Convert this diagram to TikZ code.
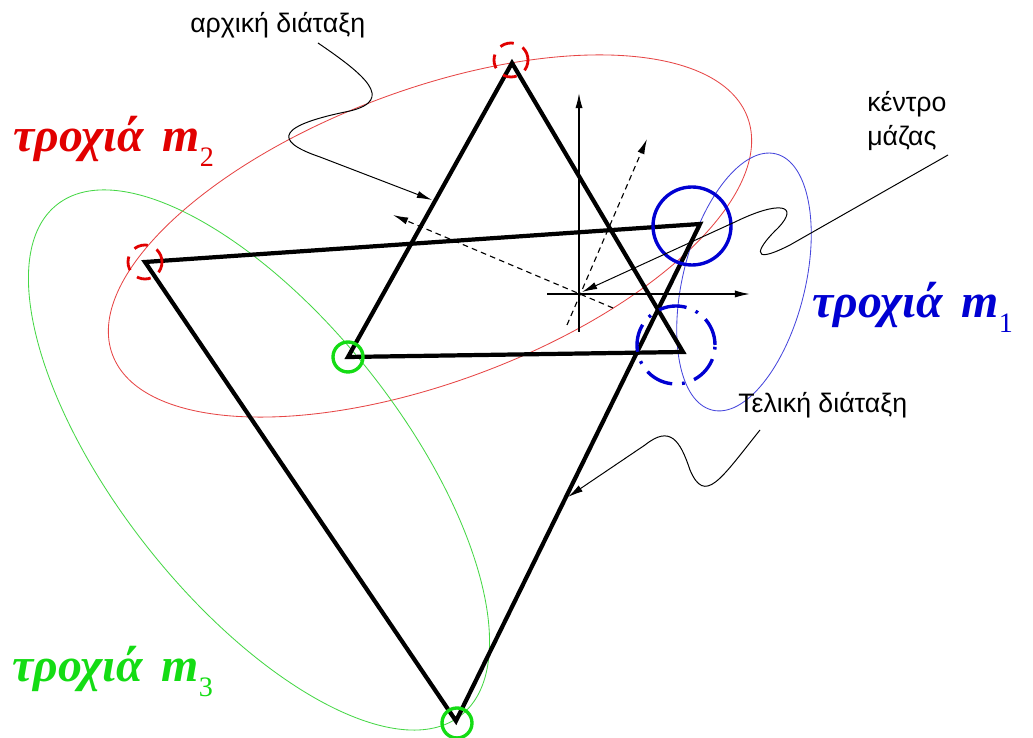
\documentclass[tikz,border=0pt]{standalone}
\usepackage{fontspec}
\setmainfont{Liberation Serif}
\setsansfont{Liberation Sans}
\usepackage{xcolor}
\usetikzlibrary{arrows.meta}

\definecolor{orbred}{RGB}{225,0,0}
\definecolor{ellred}{RGB}{230,70,70}
\definecolor{orbgreen}{RGB}{20,220,20}
\definecolor{ellgreen}{RGB}{70,215,70}
\definecolor{orbblue}{RGB}{0,0,210}
\definecolor{ellblue}{RGB}{70,70,220}

\newcommand{\troxia}[1]{{\bfseries\itshape τροχιά\hspace{0.4em}m}\raisebox{-0.3em}{\fontsize{20}{20}\selectfont\mdseries\upshape #1}}

\begin{document}
\begin{tikzpicture}[
	bigtri/.style={line width=3pt, line join=miter},
	orbit/.style={line width=0.6pt},
	axis/.style={line width=1pt, -{Latex[length=3.8mm,width=1.8mm]}},
	daxis/.style={line width=0.8pt, dash pattern=on 4pt off 3pt, -{Latex[length=3.8mm,width=1.8mm]}},
	pointer/.style={line width=0.7pt, -{Latex[length=3.8mm,width=1.8mm]}},
	note/.style={font=\sffamily\fontsize{19}{23}\selectfont, inner sep=0pt},
	orblbl/.style={font=\fontsize{34}{40}\selectfont, inner sep=0pt},
	]
	\useasboundingbox (0,0) rectangle (25.825,18.45);
	
	% orbits
	\coordinate (c2) at (10.75,12.55);
	\coordinate (c3) at (6.475,6.95);
	\coordinate (c1) at (18.60,11.40);
	\draw[orbit, ellred, rotate around={20.5:(c2)}] (c2) ellipse (8.475 and 3.65);
	\draw[orbit, ellgreen, rotate around={-51.65:(c3)}] (c3) ellipse (8.14 and 3.54);
	\draw[orbit, ellblue, rotate around={76:(c1)}] (c1) ellipse (3.30 and 1.525);
	
	% initial configuration
	\coordinate (ia) at (12.80,16.875);
	\coordinate (ib) at (8.70,9.525);
	\coordinate (ic) at (17.075,9.65);
	\draw[bigtri] (ia) -- (ib) -- (ic) -- cycle;
	
	% final configuration
	\coordinate (fa) at (3.625,11.90);
	\coordinate (fb) at (17.50,12.85);
	\coordinate (fc) at (11.40,0.425);
	\draw[bigtri] (fa) -- (fb) -- (fc) -- cycle;
	
	% masses
	\draw[orbred, line width=2pt, dash pattern=on 10pt off 7pt] (12.775,16.95) circle (0.425);
	\draw[orbred, line width=2pt, dash pattern=on 10pt off 7pt] (fa) circle (0.425);
	\draw[orbgreen, line width=2.4pt] (ib) circle (0.375);
	\draw[orbgreen, line width=2.4pt] (11.425,0.375) circle (0.375);
	\draw[orbblue, line width=2.4pt] (17.30,12.80) circle (0.975);
	\draw[orbblue, line width=2.4pt, dash pattern=on 20pt off 7pt on 2pt off 7pt] (16.90,9.825) circle (0.975);
	
	% centre of mass frames
	\coordinate (o) at (14.475,11.10);
	\draw[axis] (14.475,10.15) -- (14.475,16.125);
	\draw[axis] (13.675,11.10) -- (18.75,11.10);
	\draw[daxis] (15.325,10.75) -- (9.825,13.075);
	\draw[daxis] (14.175,10.325) -- (16.175,14.975);
	
	% labels
	\node[note, anchor=base west] (lblini) at (4.75,17.625) {αρχική διάταξη};
	\node[note, anchor=base west] (lblcm) at (21.675,15.65) {κέντρο};
	\node[note, anchor=base west] (lblcm2) at (21.675,14.80) {μάζας};
	\node[note, anchor=base west] (lblfin) at (18.45,8.125) {Τελική διάταξη};
	\node[orblbl, anchor=base west, text=orbred] (lblm2) at (0.325,14.65) {\troxia{2}};
	\node[orblbl, anchor=base west, text=orbblue] (lblm1) at (20.30,10.50) {\troxia{1}};
	\node[orblbl, anchor=base west, text=orbgreen] (lblm3) at (0.30,1.40) {\troxia{3}};
	
	% pointers
	\coordinate (wi0) at (7.95,17.375);
	\coordinate (wi1) at (10.80,13.45);
	\coordinate (wc0) at (23.70,14.575);
	\coordinate (wc1) at (14.55,11.15);
	\coordinate (wf0) at (19.0,7.70);
	\coordinate (wf1) at (14.20,6.025);
	\draw[pointer] (wi0) .. controls (9.125,16.575) and (9.875,15.95) .. (8.75,15.675)
		.. controls (7.0,15.325) and (6.75,14.95) .. (8.0,14.525) -- (wi1);
	\draw[pointer] (wc0) -- (19.75,12.325) .. controls (18.625,11.75) and (19.0,12.325) .. (19.45,12.75)
		.. controls (20.0,13.325) and (19.5,13.45) .. (18.375,12.90) -- (wc1);
	\draw[pointer] (wf0) .. controls (18.0,6.45) and (17.625,5.825) .. (17.25,6.70)
		.. controls (17.0,7.45) and (16.75,7.825) .. (16.125,7.325) -- (wf1);
\end{tikzpicture}
\end{document}
